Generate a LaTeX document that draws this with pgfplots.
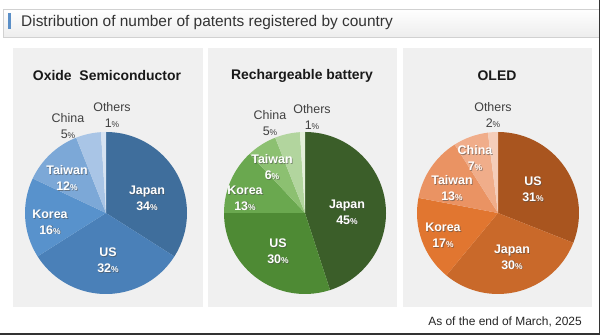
\documentclass[border=0pt]{standalone}
\usepackage{pgfplots}
\usepackage{pgfplotstable}
\pgfplotsset{compat=1.18}
\usepackage{fontspec}
\setmainfont{Liberation Sans}

\definecolor{oxA}{HTML}{3F6E9C}
\definecolor{oxB}{HTML}{4A80B8}
\definecolor{oxC}{HTML}{5892CC}
\definecolor{oxD}{HTML}{7CA8D7}
\definecolor{oxE}{HTML}{A9C5E6}
\definecolor{oxF}{HTML}{D6E3F2}
\definecolor{btA}{HTML}{3B5E29}
\definecolor{btB}{HTML}{4E8A34}
\definecolor{btC}{HTML}{6AA84F}
\definecolor{btD}{HTML}{8CC071}
\definecolor{btE}{HTML}{B2D59E}
\definecolor{btF}{HTML}{E3EFD9}
\definecolor{olA}{HTML}{A9551F}
\definecolor{olB}{HTML}{C9692A}
\definecolor{olC}{HTML}{E17630}
\definecolor{olD}{HTML}{EA9363}
\definecolor{olE}{HTML}{F0AD8A}
\definecolor{olF}{HTML}{F5CDB9}
\definecolor{paneltxt}{HTML}{404040}
\definecolor{titlebar}{HTML}{5B8FC7}

\pgfplotstableread{
name value col lx ly out
Japan 34 oxA 41 15 0
US 32 oxB 2 -47 0
Korea 16 oxC -56 -9 0
Taiwan 12 oxD -39 35 0
China 5 oxE -38 87 1
Others 1 oxF 6 98 1
}\oxide

\pgfplotstableread{
name value col lx ly out
Japan 45 btA 42 1 0
US 30 btB -27 -38 0
Korea 13 btC -60 15 0
Taiwan 6 btD -33 46 0
China 5 btE -35 90 1
Others 1 btF 7 96 1
}\battery

\pgfplotstableread{
name value col lx ly out
US 31 olA 35 24 0
Japan 30 olB 14 -44 0
Korea 17 olC -55 -22 0
Taiwan 13 olD -46 25 0
China 7 olE -23 55 0
Others 2 olF -5 98 1
}\oled

\newcommand\labtext[2]{#1\\#2{\fontsize{8.5}{8.5}\selectfont\%}}
\newcommand\inlab[4]{%
  \node[align=center,text=black!70,opacity=0.55,font=\fontsize{12.5}{16}\selectfont\bfseries] at (axis cs:{#3+0.8},{#4-0.8}) {\labtext{#1}{#2}};
  \node[align=center,text=white,font=\fontsize{12.5}{16}\selectfont\bfseries] at (axis cs:#3,#4) {\labtext{#1}{#2}};}
\newcommand\outlab[4]{%
  \node[align=center,text=paneltxt,font=\fontsize{12.5}{16}\selectfont] at (axis cs:#3,#4) {\labtext{#1}{#2}};}

\newcommand\drawpie[2]{%
  \pgfplotstablegetrowsof{#1}%
  \pgfmathtruncatemacro\nrows{\pgfplotsretval-1}%
  \def\cum{0}%
  \pgfplotsforeachungrouped \i in {0,...,\nrows}{%
    \pgfplotstablegetelem{\i}{value}\of{#1}\let\val\pgfplotsretval
    \pgfplotstablegetelem{\i}{col}\of{#1}\let\col\pgfplotsretval
    \pgfmathsetmacro\sa{90-3.6*\cum}%
    \pgfmathsetmacro\ea{90-3.6*(\cum+\val)}%
    \edef\doit{\noexpand\fill[\col] (axis cs:0,0) -- ++(\sa:#2bp) arc[start angle=\sa, end angle=\ea, radius=#2bp] -- cycle;}%
    \doit
    \pgfmathsetmacro\cum{\cum+\val}%
  }%
  \pgfplotsforeachungrouped \i in {0,...,\nrows}{%
    \pgfplotstablegetelem{\i}{value}\of{#1}\let\val\pgfplotsretval
    \pgfplotstablegetelem{\i}{name}\of{#1}\let\nm\pgfplotsretval
    \pgfplotstablegetelem{\i}{lx}\of{#1}\let\lx\pgfplotsretval
    \pgfplotstablegetelem{\i}{ly}\of{#1}\let\ly\pgfplotsretval
    \pgfplotstablegetelem{\i}{out}\of{#1}\let\isout\pgfplotsretval
    \ifnum\isout=1
      \edef\doit{\noexpand\outlab{\nm}{\val}{\lx}{\ly}}%
    \else
      \edef\doit{\noexpand\inlab{\nm}{\val}{\lx}{\ly}}%
    \fi
    \doit
  }%
}

\pgfplotsset{pieaxis/.style={anchor=origin, x=1bp, y=1bp, xmin=-100, xmax=100, ymin=-100, ymax=100, hide axis, clip=false}}

\begin{document}
\begin{tikzpicture}
\useasboundingbox (0,0) rectangle (600bp,335bp);
\fill[white] (0,0) rectangle (600bp,335bp);
% title box
\shade[top color=white, bottom color=black!7] (3bp,298bp) rectangle (600bp,326bp);
\draw[black!18, line width=0.8bp] (3bp,298bp) rectangle (602bp,326bp);
\fill[titlebar] (8bp,306bp) rectangle (11bp,322bp);
\node[anchor=west, text=black!80, font=\fontsize{15.5}{17}\selectfont, inner sep=0pt] at (21bp,312bp) {Distribution of number of patents registered by country};
% panels
\fill[black!6] (13bp,28bp) rectangle (203bp,287bp);
\fill[black!6] (208bp,28bp) rectangle (397bp,287bp);
\fill[black!6] (403bp,28bp) rectangle (592bp,287bp);
% panel titles
\node[font=\fontsize{14}{16}\selectfont\bfseries, text=black!90] at (107bp,259bp) {Oxide\ \ Semiconductor};
\node[font=\fontsize{14}{16}\selectfont\bfseries, text=black!90] at (302bp,259bp) {Rechargeable battery};
\node[font=\fontsize{14}{16}\selectfont\bfseries, text=black!90] at (497bp,259bp) {OLED};

\begin{axis}[pieaxis, at={(106bp,122bp)}]
\drawpie{\oxide}{81}
\end{axis}
\begin{axis}[pieaxis, at={(305bp,122bp)}]
\drawpie{\battery}{81}
\end{axis}
\begin{axis}[pieaxis, at={(498bp,122bp)}]
\drawpie{\oled}{81}
\end{axis}

\node[anchor=east, text=black!85, font=\fontsize{12}{14}\selectfont, inner sep=0pt] at (582bp,13bp) {As of the end of March, 2025};
% dark frame on right and bottom
\fill[black!80] (598.5bp,0) rectangle (600bp,335bp);
\fill[black!80] (0,0) rectangle (600bp,1.8bp);
\end{tikzpicture}
\end{document}
